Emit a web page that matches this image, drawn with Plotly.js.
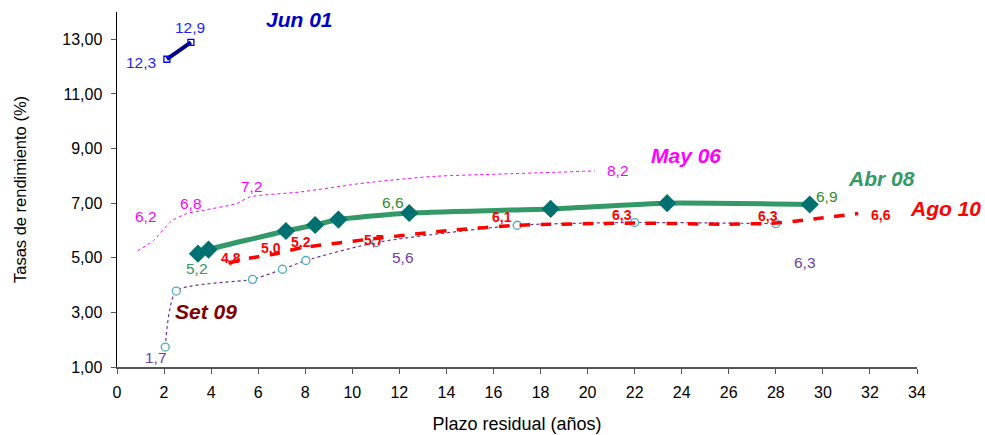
<!DOCTYPE html>
<html>
<head>
<meta charset="utf-8">
<script src="https://cdn.plot.ly/plotly-3.0.1.min.js"></script>
<style>html,body{margin:0;padding:0;background:#fff;}#chart{width:985px;height:435px;}</style>
</head>
<body>
<div id="chart"></div>
<script>
// Jun 01
const junX = [2.12, 3.14];
const junY = [12.27, 12.89];
// May 06
const mayX = [0.87, 1.56, 2.31, 2.97, 3.68, 5.1, 5.66, 7.79, 10.62, 13.44, 16.84, 20.31];
const mayY = [5.25, 5.64, 6.34, 6.62, 6.74, 6.99, 7.23, 7.41, 7.75, 7.98, 8.08, 8.18];
// Abr 08
const abrX = [3.44, 3.89, 7.18, 8.42, 9.41, 12.42, 18.43, 23.38, 29.44];
const abrY = [5.15, 5.30, 5.98, 6.20, 6.40, 6.64, 6.79, 7.00, 6.95];
// Ago 10
const agoX = [4.74, 5.52, 6.65, 7.79, 10.8, 14.15, 17.0, 22.0, 25.8, 28.0, 31.5];
const agoY = [4.81, 4.97, 5.13, 5.36, 5.69, 6.00, 6.19, 6.27, 6.23, 6.27, 6.62];
// Set 09
const setX = [2.05, 2.52, 5.76, 7.03, 8.03, 11.02, 17.01, 22.0, 28.0];
const setY = [1.73, 3.78, 4.21, 4.58, 4.90, 5.56, 6.19, 6.29, 6.25];

// Data labels: [text, x, y]
const junLabels = [["12,3", 1.03, 12.16], ["12,9", 3.11, 13.44]];
const mayLabels = [["6,2", 1.24, 6.52], ["6,8", 3.15, 6.99], ["7,2", 5.75, 7.62], ["8,2", 21.29, 8.2]];
const abrLabels = [["5,2", 3.41, 4.62, "#339966"], ["6,6", 11.73, 7.03, "#2E8B2E"], ["6,9", 30.16, 7.25, "#2E8B2E"]];
const agoLabels = [["4,8", 4.85, 4.98], ["5,0", 6.55, 5.35], ["5,2", 7.83, 5.57], ["5,7", 10.93, 5.64],
                   ["6,1", 16.36, 6.48], ["6,3", 21.46, 6.56], ["6,3", 27.66, 6.52], ["6,6", 32.45, 6.56]];
const setLabels = [["1,7", 1.67, 1.35], ["5,6", 12.16, 5.02], ["6,3", 29.22, 4.84]];
// Series names: [text, x, y, color]
const seriesNames = [["Jun 01", 7.75, 13.73, "#0000CC"], ["May 06", 24.18, 8.76, "#FF00FF"],
                     ["Abr 08", 32.5, 7.91, "#339966"], ["Ago 10", 35.2, 6.81, "#FF0000"],
                     ["Set 09", 3.79, 3.04, "#800000"]];

const xTicks = [0,2,4,6,8,10,12,14,16,18,20,22,24,26,28,30,32,34];
const yTicks = [1,3,5,7,9,11,13];
const X_RANGE = [0, 34];

const FONT = "Liberation Sans, Arial, sans-serif";

const traces = [
  {x: mayX, y: mayY, mode: "lines", line: {color: "#FF00FF", width: 1, dash: "dot", shape: "spline", smoothing: 0.6}},
  {x: setX, y: setY, mode: "lines+markers", line: {color: "#7030A0", width: 1.2, dash: "dot", shape: "spline", smoothing: 0.6},
   marker: {symbol: "circle", size: 8, color: "#FFFFFF", line: {color: "#4BACC6", width: 1.3}}},
  {x: agoX, y: agoY, mode: "lines", line: {color: "#FF0000", width: 3.5, dash: "dash", shape: "spline", smoothing: 0.5}},
  {x: abrX, y: abrY, mode: "lines+markers", line: {color: "#339966", width: 5, shape: "spline", smoothing: 0.5},
   marker: {symbol: "diamond", size: 14, color: "#007070"}},
  {x: junX, y: junY, mode: "lines+markers", line: {color: "#000080", width: 4},
   marker: {symbol: "square-open", size: 6, color: "#0000FF", line: {width: 1.3}}}
];

const ann = [];
function place(xv) {
  // annotations outside the x range are hidden by Plotly, so use paper coordinates for those
  if (xv > X_RANGE[1] || xv < X_RANGE[0]) return {x: (xv - X_RANGE[0]) / (X_RANGE[1] - X_RANGE[0]), xref: "paper"};
  return {x: xv, xref: "x"};
}
function addLabels(list, color, size, bold) {
  list.forEach(l => ann.push(Object.assign(place(l[1]), {y: l[2], yref: "y", text: bold ? "<b>" + l[0] + "</b>" : l[0],
    xanchor: "center", yanchor: "middle",
    showarrow: false, font: {family: FONT, size: size, color: l[3] || color}})));
}
addLabels(junLabels, "#1F1FFF", 15.5, false);
addLabels(mayLabels, "#FF00FF", 15.5, false);
addLabels(abrLabels, "#339966", 15.5, false);
addLabels(agoLabels, "#FF0000", 14, true);
addLabels(setLabels, "#7040A8", 15.5, false);
seriesNames.forEach(s => ann.push(Object.assign(place(s[1]), {y: s[2], yref: "y", text: "<b><i>" + s[0] + "</i></b>",
  xanchor: "center", yanchor: "middle",
  showarrow: false, font: {family: FONT, size: 21, color: s[3]}})));

const layout = {
  width: 985, height: 435,
  margin: {l: 117, r: 68, t: 12, b: 68},
  paper_bgcolor: "#FFFFFF", plot_bgcolor: "#FFFFFF",
  showlegend: false,
  separators: ",.",
  font: {family: FONT, size: 16, color: "#000"},
  xaxis: {range: X_RANGE, tickvals: xTicks, ticktext: xTicks.map(String), showgrid: false, zeroline: false,
    showline: true, linecolor: "#555", linewidth: 1.5, ticks: "outside", ticklen: 5, tickcolor: "#555",
    ticklabelstandoff: 5,
    tickfont: {size: 16, family: FONT}, title: {text: "Plazo residual (años)", font: {size: 18, family: FONT}, standoff: 17}},
  yaxis: {range: [1, 14], tickvals: yTicks, tickformat: ".2f", showgrid: false, zeroline: false,
    showline: true, linecolor: "#000", linewidth: 1.5, ticks: "outside", ticklen: 5, tickcolor: "#555",
    ticklabelstandoff: 5,
    tickfont: {size: 16, family: FONT}, title: {text: "Tasas de rendimiento (%)", font: {size: 16.5, family: FONT}, standoff: 31}},
  annotations: ann
};

Plotly.newPlot("chart", traces, layout, {displayModeBar: false, staticPlot: true});
</script>
</body>
</html>
